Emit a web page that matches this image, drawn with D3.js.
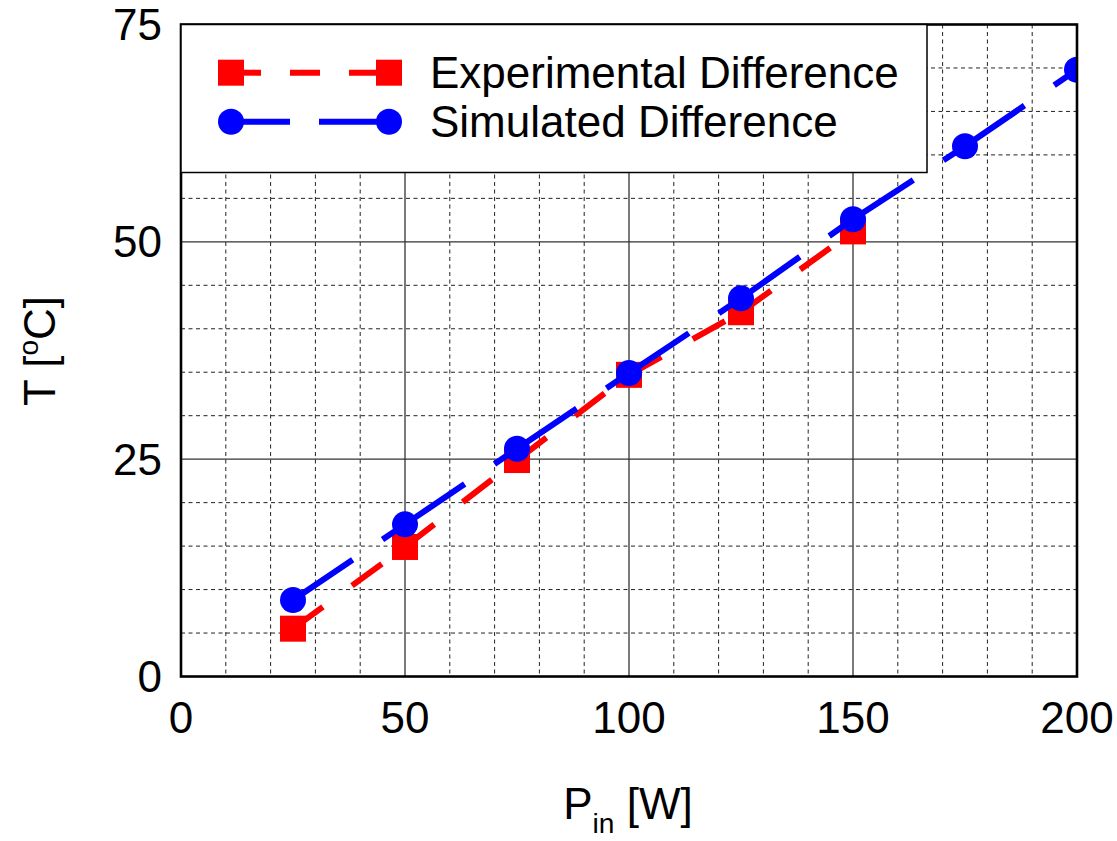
<!DOCTYPE html>
<html>
<head>
<meta charset="utf-8">
<script src="https://cdn.jsdelivr.net/npm/d3@7/dist/d3.min.js"></script>
<style>
	body { margin: 0; background: #fff; }
	svg { display: block; font-family: 'Liberation Sans', Arial, Helvetica, sans-serif; }
</style>
</head>
<body>
<svg id="chart" width="1117" height="841"></svg>
<script>
// 데이터
const powerIn = [25, 50, 75, 100, 125, 150, 175, 200];
const experimentalDiff = [5.5, 14.9, 24.9, 34.7, 41.9, 51.2];
const simulatedDiff = [8.8, 17.5, 26.2, 34.9, 43.5, 52.6, 61.0, 69.8];

const xTicks = [0, 50, 100, 150, 200];
const yTicks = [0, 25, 50, 75];
const xMinorTicks = d3.range(10, 200, 10).filter(v => v % 50 !== 0);
const yMinorTicks = d3.range(5, 75, 5).filter(v => v % 25 !== 0);

const seriesNames = ['Experimental Difference', 'Simulated Difference'];

// 레이아웃
const [plotLeft, plotRight, plotTop, plotBottom] = [181, 1077, 24.5, 676.5];
const fontSize = 44;

const x = d3.scaleLinear([0, 200], [plotLeft, plotRight]);
const y = d3.scaleLinear([0, 75], [plotBottom, plotTop]);

const svg = d3.select('#chart');

svg.append('defs')
	.append('clipPath')
	.attr('id', 'plotClip')
	.append('rect')
	.attr('x', plotLeft)
	.attr('y', plotTop)
	.attr('width', plotRight - plotLeft)
	.attr('height', plotBottom - plotTop);

// 격자 (점선 = 보조, 실선 = 주)
const grid = svg.append('g');
grid.selectAll('.vminor')
	.data(xMinorTicks)
	.join('line')
	.attr('x1', d => x(d)).attr('x2', d => x(d))
	.attr('y1', plotTop).attr('y2', plotBottom)
	.attr('stroke', '#222').attr('stroke-width', 1).attr('stroke-dasharray', '4,3.5');
grid.selectAll('.hminor')
	.data(yMinorTicks)
	.join('line')
	.attr('y1', d => y(d)).attr('y2', d => y(d))
	.attr('x1', plotLeft).attr('x2', plotRight)
	.attr('stroke', '#222').attr('stroke-width', 1).attr('stroke-dasharray', '4,3.5');
grid.selectAll('.vmajor')
	.data(xTicks.slice(1, -1))
	.join('line')
	.attr('x1', d => x(d)).attr('x2', d => x(d))
	.attr('y1', plotTop).attr('y2', plotBottom)
	.attr('stroke', '#333').attr('stroke-width', 1.3);
grid.selectAll('.hmajor')
	.data(yTicks.slice(1, -1))
	.join('line')
	.attr('y1', d => y(d)).attr('y2', d => y(d))
	.attr('x1', plotLeft).attr('x2', plotRight)
	.attr('stroke', '#333').attr('stroke-width', 1.3);

// 데이터 선과 마커 (각 구간마다 대시 패턴이 새로 시작됨)
const expPoints = experimentalDiff.map((v, i) => [powerIn[i], v]);
const simPoints = simulatedDiff.map((v, i) => [powerIn[i], v]);
const marks = svg.append('g').attr('clip-path', 'url(#plotClip)');

const markerSize = 26;
const markerRadius = 13;

marks.append('g')
	.selectAll('line')
	.data(d3.pairs(expPoints))
	.join('line')
	.attr('x1', d => x(d[0][0])).attr('y1', d => y(d[0][1]))
	.attr('x2', d => x(d[1][0])).attr('y2', d => y(d[1][1]))
	.attr('stroke', '#ff0000').attr('stroke-width', 6)
	.attr('stroke-dasharray', '37,36');
marks.append('g')
	.selectAll('rect')
	.data(expPoints)
	.join('rect')
	.attr('x', d => x(d[0]) - markerSize / 2)
	.attr('y', d => y(d[1]) - markerSize / 2)
	.attr('width', markerSize).attr('height', markerSize)
	.attr('fill', '#ff0000');

marks.append('g')
	.selectAll('line')
	.data(d3.pairs(simPoints))
	.join('line')
	.attr('x1', d => x(d[0][0])).attr('y1', d => y(d[0][1]))
	.attr('x2', d => x(d[1][0])).attr('y2', d => y(d[1][1]))
	.attr('stroke', '#0000ff').attr('stroke-width', 6)
	.attr('stroke-dasharray', '72,36');
marks.append('g')
	.selectAll('circle')
	.data(simPoints)
	.join('circle')
	.attr('cx', d => x(d[0]))
	.attr('cy', d => y(d[1]))
	.attr('r', markerRadius)
	.attr('fill', '#0000ff');

// 축 테두리
svg.append('rect')
	.attr('x', plotLeft).attr('y', plotTop)
	.attr('width', plotRight - plotLeft).attr('height', plotBottom - plotTop)
	.attr('fill', 'none').attr('stroke', '#000').attr('stroke-width', 2.6);

// 축 눈금 라벨
svg.append('g')
	.selectAll('text')
	.data(xTicks)
	.join('text')
	.attr('x', d => x(d))
	.attr('y', plotBottom + 56)
	.attr('text-anchor', 'middle')
	.attr('font-size', fontSize)
	.text(d => d);
svg.append('g')
	.selectAll('text')
	.data(yTicks)
	.join('text')
	.attr('x', plotLeft - 19)
	.attr('y', d => y(d))
	.attr('dy', '0.35em')
	.attr('text-anchor', 'end')
	.attr('font-size', fontSize)
	.text(d => d);

// 축 제목
const xLabel = svg.append('text')
	.attr('x', 628)
	.attr('y', 819)
	.attr('text-anchor', 'middle')
	.attr('font-size', fontSize);
xLabel.append('tspan').text('P');
xLabel.append('tspan').attr('font-size', fontSize * 0.64).attr('dy', 14).text('in');
xLabel.append('tspan').attr('dy', -14).text(' [W]');

const yLabel = svg.append('text')
	.attr('transform', 'translate(55,351) rotate(-90)')
	.attr('text-anchor', 'middle')
	.attr('font-size', fontSize);
yLabel.append('tspan').text('T [');
yLabel.append('tspan').attr('font-size', fontSize * 0.64).attr('dy', -17).text('o');
yLabel.append('tspan').attr('dy', 17).text('C]');

// 범례
const legend = svg.append('g');
legend.append('rect')
	.attr('x', plotLeft).attr('y', plotTop)
	.attr('width', 746).attr('height', 148)
	.attr('fill', '#fff').attr('stroke', '#000').attr('stroke-width', 1.5);

const legendRows = [
	{ name: seriesNames[0], color: '#ff0000', dash: '30,29', marker: 'square', cy: 72.7 },
	{ name: seriesNames[1], color: '#0000ff', dash: '59,29', marker: 'circle', cy: 121.7 }
];
const [legendX1, legendX2, legendTextX] = [231, 389, 430];

legendRows.forEach(row => {
	legend.append('line')
		.attr('x1', legendX1).attr('x2', legendX2)
		.attr('y1', row.cy).attr('y2', row.cy)
		.attr('stroke', row.color).attr('stroke-width', 6)
		.attr('stroke-dasharray', row.dash);
	[legendX1, legendX2].forEach(cx => {
		if (row.marker === 'square') {
			legend.append('rect')
				.attr('x', cx - markerSize / 2).attr('y', row.cy - markerSize / 2)
				.attr('width', markerSize).attr('height', markerSize)
				.attr('fill', row.color);
		} else {
			legend.append('circle')
				.attr('cx', cx).attr('cy', row.cy).attr('r', markerRadius)
				.attr('fill', row.color);
		}
	});
	legend.append('text')
		.attr('x', legendTextX)
		.attr('y', row.cy)
		.attr('dy', '0.35em')
		.attr('font-size', fontSize)
		.text(row.name);
});
</script>
</body>
</html>
